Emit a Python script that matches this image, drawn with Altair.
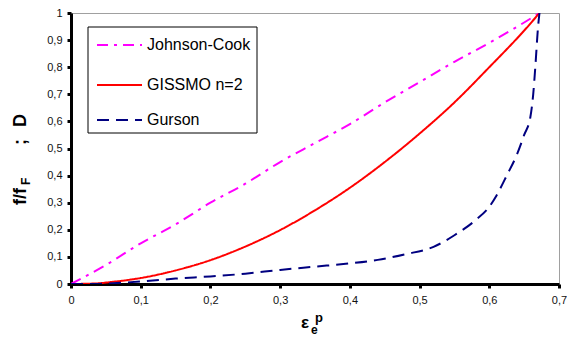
import altair as alt
import pandas as pd

# ---- data ----
series_names = ["Johnson-Cook", "GISSMO n=2", "Gurson"]

jc_x = [0, 0.05, 0.1, 0.15, 0.2, 0.25, 0.3, 0.35, 0.4, 0.45, 0.5, 0.55, 0.6, 0.65, 0.672]
jc_y = [0, 0.07, 0.15, 0.22, 0.30, 0.37, 0.45, 0.52, 0.59, 0.67, 0.745, 0.82, 0.89, 0.965, 1.0]

gis_x = [0, 0.035, 0.06, 0.1, 0.15, 0.2, 0.25, 0.3, 0.35, 0.4, 0.45, 0.5, 0.55, 0.6, 0.65, 0.672]
gis_y = [0, 0.002, 0.008, 0.022, 0.05, 0.088, 0.138, 0.199, 0.272, 0.355, 0.45, 0.555, 0.67, 0.80, 0.935, 1.0]

gur_x = [0, 0.035, 0.06, 0.1, 0.15, 0.2, 0.25, 0.3, 0.35, 0.4, 0.44, 0.48, 0.52, 0.55,
         0.58, 0.6, 0.61, 0.625, 0.64, 0.65, 0.659, 0.663, 0.666, 0.67, 0.672]
gur_y = [0, 0, 0.003, 0.009, 0.02, 0.028, 0.038, 0.052, 0.064, 0.076, 0.089, 0.11, 0.137, 0.18,
         0.235, 0.285, 0.325, 0.40, 0.48, 0.55, 0.617, 0.70, 0.80, 0.95, 1.0]

x_ticks = [0, 0.1, 0.2, 0.3, 0.4, 0.5, 0.6, 0.7]
y_ticks = [0, 0.1, 0.2, 0.3, 0.4, 0.5, 0.6, 0.7, 0.8, 0.9, 1.0]

colors = ["#ff00ff", "#ff0000", "#000080"]
dashes = [[11, 6, 3, 6], [1, 0], [12, 7]]

FONT = "Liberation Sans"
label_expr = "datum.value == 0 ? '0' : datum.value == 1 ? '1' : replace(format(datum.value, '.1f'), '.', ',')"

xscale = alt.Scale(domain=[0, 0.7], nice=False, zero=True)
yscale = alt.Scale(domain=[0, 1], nice=False, zero=True)

x_axis = alt.Axis(values=x_ticks, labelExpr=label_expr, title=None, grid=False,
                  domainColor="black", domainWidth=3, tickColor="black", tickWidth=3,
                  tickSize=4, labelFont=FONT, labelFontSize=11, labelColor="#111",
                  labelPadding=6, labelFlush=False)
y_axis = alt.Axis(values=y_ticks, labelExpr=label_expr, title=None, grid=False,
                  domainColor="black", domainWidth=3, tickColor="black", tickWidth=3,
                  tickSize=4, labelFont=FONT, labelFontSize=11, labelColor="#111",
                  labelPadding=5, labelFlush=False)

layers = []
for name, xs, ys, c, d in zip(series_names, [jc_x, gis_x, gur_x], [jc_y, gis_y, gur_y], colors, dashes):
    df = pd.DataFrame({"eps": xs, "D": ys, "order": list(range(len(xs))), "series": name})
    layers.append(
        alt.Chart(df).mark_line(color=c, strokeWidth=2, strokeDash=d, clip=True,
                                interpolate="monotone").encode(
            x=alt.X("eps:Q", scale=xscale, axis=x_axis),
            y=alt.Y("D:Q", scale=yscale, axis=y_axis),
            order="order:Q",
        )
    )

# ---- legend box ----
one = pd.DataFrame({"k": [0]})
layers.append(
    alt.Chart(one).mark_rect(fill="white", stroke="black", strokeWidth=1).encode(
        x=alt.value(17), x2=alt.value(186), y=alt.value(14), y2=alt.value(120)
    )
)
legend_y = [32, 72, 107]
for name, c, d, ly in zip(series_names, colors, dashes, legend_y):
    ldf = pd.DataFrame({"series": [name]})
    layers.append(
        alt.Chart(ldf).mark_rule(color=c, strokeWidth=2, strokeDash=d).encode(
            x=alt.value(26), x2=alt.value(71), y=alt.value(ly)
        )
    )
    layers.append(
        alt.Chart(ldf).mark_text(align="left", baseline="middle", font=FONT, fontSize=16,
                                 color="black").encode(
            x=alt.value(76), y=alt.value(ly), text="series:N"
        )
    )

# ---- axis titles built from pieces (sub/superscripts) ----
def txt(s, x, y, size, angle=0):
    return alt.Chart(pd.DataFrame({"t": [s]})).mark_text(
        align="left", baseline="alphabetic", font=FONT, fontSize=size,
        fontWeight="bold", color="black", angle=angle
    ).encode(x=alt.value(x), y=alt.value(y), text="t:N")

layers += [
    txt("f/f", -45, 192, 18, 270),
    txt("F", -41, 172, 12, 270),
    txt(";", -45, 132, 18, 270),
    txt("D", -45, 114, 18, 270),
    txt("ε", 230, 315, 17),
    txt("e", 240, 321, 12),
    txt("p", 244, 309, 13),
]

chart = alt.layer(*layers).properties(
    width=488, height=271,
    autosize=alt.AutoSizeParams(type="none"),
    padding={"left": 63, "top": 5, "right": 8, "bottom": 53},
).configure_view(stroke="#a0a0a0", strokeWidth=1)

chart.save("out.html", embed_options={"renderer": "svg", "actions": False})
